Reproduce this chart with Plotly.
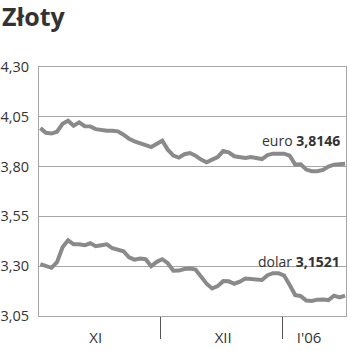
import plotly.graph_objects as go
import pandas as pd

title_text = "Złoty"
dates = pd.bdate_range("2005-11-01", "2006-01-17")

euro = [3.993, 3.970, 3.966, 3.975, 4.015, 4.030, 4.005, 4.022, 4.003, 4.002,
        3.988, 3.982, 3.980, 3.980, 3.977, 3.960, 3.940, 3.927, 3.920, 3.908,
        3.898, 3.912, 3.930, 3.885, 3.855, 3.845, 3.862, 3.868, 3.855, 3.835,
        3.822, 3.835, 3.848, 3.878, 3.872, 3.852, 3.845, 3.843, 3.848, 3.843,
        3.838, 3.858, 3.865, 3.865, 3.865, 3.855, 3.810, 3.812, 3.785, 3.777,
        3.777, 3.783, 3.800, 3.810, 3.812, 3.8146]

dolar = [3.310, 3.300, 3.292, 3.320, 3.395, 3.430, 3.410, 3.410, 3.405, 3.415,
         3.400, 3.405, 3.410, 3.390, 3.385, 3.375, 3.345, 3.333, 3.338, 3.335,
         3.300, 3.322, 3.335, 3.315, 3.277, 3.278, 3.286, 3.288, 3.283, 3.245,
         3.212, 3.188, 3.200, 3.225, 3.224, 3.212, 3.222, 3.238, 3.237, 3.234,
         3.231, 3.255, 3.265, 3.265, 3.253, 3.205, 3.155, 3.150, 3.128, 3.125,
         3.132, 3.133, 3.130, 3.152, 3.143, 3.1521]

y_ticks = [3.05, 3.30, 3.55, 3.80, 4.05, 4.30]
month_labels = ["XI", "XII", "I'06"]
month_label_pos = ["2005-11-15", "2005-12-16", "2006-01-06 12:00"]
month_bounds = ["2005-11-30 18:00", "2005-12-30 18:00"]

line_color = "#8a8a8a"
grid_color = "#a6a6a6"
text_color = "#333333"
font_family = "Open Sans"

fig = go.Figure()
fig.add_trace(go.Scatter(x=dates, y=euro, mode="lines",
                         line=dict(color=line_color, width=4), name="euro"))
fig.add_trace(go.Scatter(x=dates, y=dolar, mode="lines",
                         line=dict(color=line_color, width=4), name="dolar"))

fig.add_annotation(xref="paper", yref="y", x=0.988, y=3.93, xanchor="right", yanchor="middle",
                   text="euro <b>%s</b>" % f"{euro[-1]:.4f}".replace(".", ","),
                   showarrow=False, font=dict(family=font_family, size=14, color=text_color))
fig.add_annotation(xref="paper", yref="y", x=0.988, y=3.325, xanchor="right", yanchor="middle",
                   text="dolar <b>%s</b>" % f"{dolar[-1]:.4f}".replace(".", ","),
                   showarrow=False, font=dict(family=font_family, size=14, color=text_color))

fig.update_layout(
    width=350, height=351,
    margin=dict(l=39, r=4, t=67, b=35),
    paper_bgcolor="white", plot_bgcolor="white",
    showlegend=False,
    separators=", ",
    title=dict(text="<b>%s</b>" % title_text, x=0.006, xanchor="left", y=0.952, yanchor="middle",
               font=dict(family=font_family, size=25, color=text_color)),
    font=dict(family=font_family, color=text_color),
)
fig.update_xaxes(
    range=["2005-10-31 18:00", "2006-01-17 04:00"],
    rangebreaks=[dict(bounds=["sat", "mon"])],
    tickmode="array", tickvals=month_label_pos, ticktext=month_labels,
    ticks="", ticklabelstandoff=8, automargin=False,
    tickfont=dict(family=font_family, size=15, color=text_color),
    showgrid=False, zeroline=False,
    showline=True, linecolor=grid_color, linewidth=1, mirror=True,
    minor=dict(tickmode="array", tickvals=month_bounds, ticks="outside",
               ticklen=22, tickwidth=1, tickcolor="#555555", showgrid=False),
)
fig.update_yaxes(
    range=[3.05, 4.30],
    tickmode="array", tickvals=y_ticks, tickformat=".2f",
    ticks="", ticklabelstandoff=6, automargin=False,
    tickfont=dict(family=font_family, size=14.5, color=text_color),
    showgrid=True, gridcolor=grid_color, gridwidth=1, zeroline=False,
    showline=True, linecolor=grid_color, linewidth=1, mirror=True,
)

fig.write_html("out.html")
